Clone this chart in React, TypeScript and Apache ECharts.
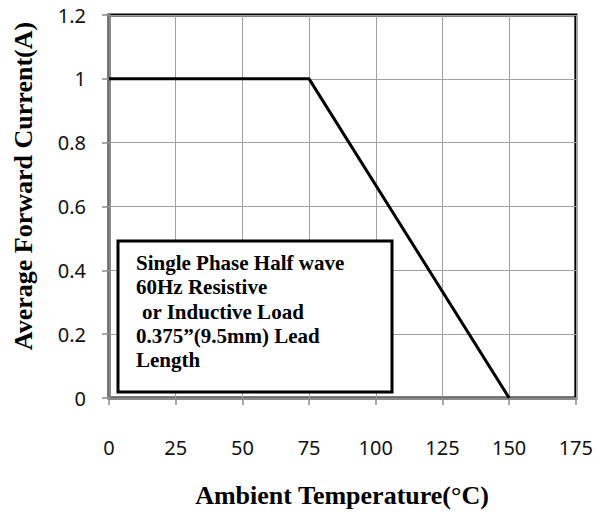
import React, { useEffect, useRef } from "react";
import * as echarts from "echarts";

const temps = [0, 75, 150];
const currents = [1, 1, 0];
const xTitle = "Ambient Temperature(°C)";
const yTitle = "Average Forward Current(A)";
const noteLines = [
  "Single Phase Half wave",
  "60Hz Resistive",
  "or Inductive Load",
  "0.375”(9.5mm) Lead",
  "Length",
];
const noteIndent = [0, 0, 6, 0, 0];

export default function App() {
  const ref = useRef<HTMLDivElement>(null);
  useEffect(() => {
    if (!ref.current) return;
    const chart = echarts.init(ref.current, null, { renderer: "svg" });
    const serif = "'Liberation Serif', 'Times New Roman', serif";
    const sans = "'Noto Sans', 'Open Sans', sans-serif";
    chart.setOption({
      animation: false,
      backgroundColor: "#ffffff",
      grid: {
        left: 109,
        top: 15,
        right: 19,
        bottom: 116,
        show: true,
        borderColor: "#000000",
        borderWidth: 3,
        backgroundColor: "transparent",
      },
      xAxis: {
        type: "value",
        min: 0,
        max: 175,
        interval: 25,
        offset: 2,
        axisLine: { show: true, lineStyle: { color: "#8c8c8c", width: 2.5 } },
        axisTick: { show: true, inside: false, length: 7, lineStyle: { color: "#8c8c8c", width: 1.5 } },
        axisLabel: { margin: 37, color: "#111", fontSize: 20, fontFamily: sans },
        splitLine: { show: true, lineStyle: { color: "#a0a0a0", width: 1 } },
      },
      yAxis: {
        type: "value",
        min: 0,
        max: 1.2,
        interval: 0.2,
        offset: 1,
        axisLine: { show: true, lineStyle: { color: "#8c8c8c", width: 2.5 } },
        axisTick: { show: true, inside: false, length: 7, lineStyle: { color: "#8c8c8c", width: 1.5 } },
        axisLabel: { margin: 22, color: "#111", fontSize: 20, fontFamily: sans },
        splitLine: { show: true, lineStyle: { color: "#a0a0a0", width: 1 } },
      },
      series: [
        {
          type: "line",
          data: temps.map((t, i) => [t, currents[i]]),
          showSymbol: false,
          symbol: "none",
          lineStyle: { color: "#000000", width: 3 },
          z: 3,
        },
      ],
      graphic: [
        {
          type: "rect",
          shape: { x: 118, y: 241, width: 274, height: 151 },
          style: { fill: "#ffffff", stroke: "#000000", lineWidth: 3 },
          z: 10,
        },
        ...noteLines.map((line, i) => ({
          type: "text",
          x: 136 + noteIndent[i],
          y: 263 + i * 24.3,
          z: 11,
          style: {
            text: line,
            fill: "#000000",
            font: `bold 21px ${serif}`,
            textAlign: "left",
            textVerticalAlign: "middle",
          },
        })),
        {
          type: "text",
          x: 342,
          y: 495,
          style: {
            text: xTitle,
            fill: "#000000",
            font: `bold 26px ${serif}`,
            textAlign: "center",
            textVerticalAlign: "middle",
          },
        },
        {
          type: "text",
          x: 23,
          y: 186,
          rotation: Math.PI / 2,
          style: {
            text: yTitle,
            fill: "#000000",
            font: `bold 26px ${serif}`,
            textAlign: "center",
            textVerticalAlign: "middle",
          },
        },
      ],
    });
    return () => chart.dispose();
  }, []);
  return <div ref={ref} style={{ width: 596, height: 514, position: "absolute", left: 0, top: 0 }} />;
}
